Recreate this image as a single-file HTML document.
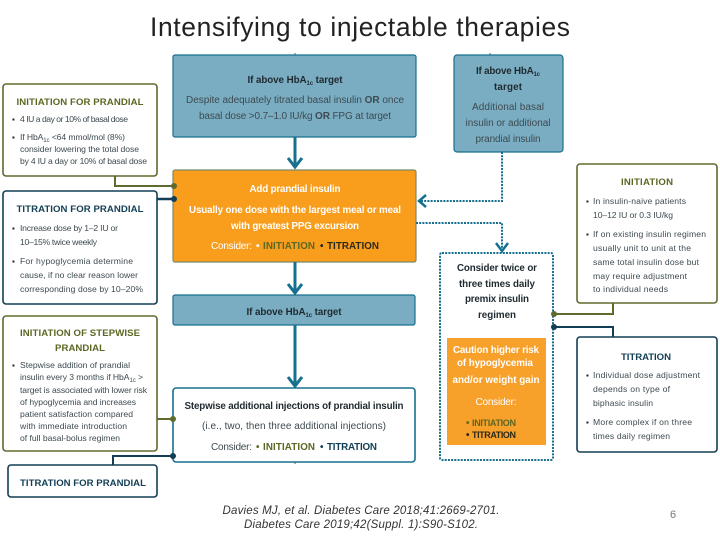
<!DOCTYPE html>
<html><head><meta charset="utf-8"><style>
html,body{margin:0;padding:0;background:#fff}
svg{display:block}
text{font-family:"Liberation Sans",sans-serif;font-size:8.6px;fill:#3d4a50}
.c{text-anchor:middle}
.m{font-size:10px}
.b{font-weight:bold;fill:#1f2a30;font-size:9.8px}
.h{font-weight:bold;font-size:9.6px}
.ol{fill:#5b6722}.nv{fill:#123f55}.w{fill:#fff}
.t{font-weight:bold;font-size:9.8px}
.s{font-size:6px}
.p{font-size:8px;fill:#222}
</style></head><body>
<svg width="720" height="540" viewBox="0 0 720 540" xmlns="http://www.w3.org/2000/svg">
<text x="360" y="36" class="c" style="font-size:26.4px;fill:#222" textLength="420">Intensifying to injectable therapies</text>

<!-- boxes -->
<g fill="#fff" stroke-width="1.6">
<rect x="3" y="84" width="154" height="92" rx="3" stroke="#5f6b2d"/>
<rect x="3" y="191" width="154" height="113" rx="3" stroke="#123f55"/>
<rect x="3" y="316" width="154" height="135" rx="3" stroke="#5f6b2d"/>
<rect x="8" y="465" width="149" height="32" rx="3" stroke="#123f55"/>
<rect x="577" y="164" width="140" height="139" rx="3" stroke="#5f6b2d"/>
<rect x="577" y="337" width="140" height="115" rx="3" stroke="#123f55"/>
<rect x="173" y="388" width="242" height="74" rx="3" stroke="#17708f"/>
</g>
<g stroke-width="1.2">
<rect x="173" y="55" width="243" height="82" rx="2" fill="#7aadc2" stroke="#17708f"/>
<rect x="173" y="170" width="243" height="92" rx="2" fill="#f99d1c" stroke="#7a8a6a"/>
<rect x="173" y="295" width="242" height="30" rx="2" fill="#7aadc2" stroke="#17708f"/>
<rect x="454" y="55" width="109" height="97" rx="3" fill="#7aadc2" stroke="#17708f"/>
</g>
<rect x="440" y="253" width="113" height="207" rx="2" fill="#fff" stroke="#17708f" stroke-width="2" stroke-dasharray="2 1.2"/>
<rect x="447" y="338" width="99" height="107" fill="#f7a02a"/>

<!-- connectors -->
<g fill="none" stroke-width="2">
<path d="M115 176V186H174" stroke="#5f6b2d"/>
<path d="M157 199H174" stroke="#123f55" stroke-width="2.5"/>
<path d="M157 419H173" stroke="#5f6b2d"/>
<path d="M113 465V456H173" stroke="#123f55"/>
<path d="M613 303V314H554" stroke="#5f6b2d"/>
<path d="M613 337V327H554" stroke="#123f55"/>
<path d="M295 137V167M288 158L295 167L302 158" stroke="#17708f" stroke-width="3"/>
<path d="M295 262V293M288 284L295 293L302 284" stroke="#17708f" stroke-width="3"/>
<path d="M295 325V386M288 377L295 386L302 377" stroke="#17708f" stroke-width="3"/>
<g stroke="#17708f" stroke-dasharray="2 1.2">
<path d="M502 152V201H420"/><path d="M416 223H502V250"/>
</g>
<path d="M426 195L419 201L426 207" stroke="#17708f" stroke-width="2.5"/>
<path d="M496 243L502 251L508 243" stroke="#17708f" stroke-width="2.5"/>
<path d="M295 53V55M490 53V55M295 462V464" stroke="#17708f" stroke-width="1"/>
</g>
<g><circle cx="174" cy="186" r="3" fill="#5f6b2d"/><circle cx="174" cy="199" r="3" fill="#123f55"/>
<circle cx="173" cy="419" r="3" fill="#5f6b2d"/><circle cx="173" cy="456" r="3" fill="#123f55"/>
<circle cx="554" cy="314" r="3" fill="#5f6b2d"/><circle cx="554" cy="327" r="3" fill="#123f55"/></g>

<!-- Initiation for prandial -->
<text x="80" y="105" class="c h ol" textLength="127">INITIATION FOR PRANDIAL</text>
<text x="12" y="122" class="p">▪</text><text x="20" y="122" textLength="108">4 IU a day or 10% of basal dose</text>
<text x="12" y="140" class="p">▪</text><text x="20" y="140" textLength="105">If HbA<tspan class="s" dy="2">1c</tspan><tspan dy="-2"> &lt;64 mmol/mol (8%)</tspan></text>
<text x="20" y="152" textLength="119">consider lowering the total dose</text>
<text x="20" y="164" textLength="127">by 4 IU a day or 10% of basal dose</text>

<!-- Titration for prandial -->
<text x="80" y="212" class="c h nv" textLength="127">TITRATION FOR PRANDIAL</text>
<text x="12" y="231" class="p">▪</text><text x="20" y="231" textLength="98">Increase dose by 1–2 IU or</text>
<text x="20" y="245" textLength="77">10–15% twice weekly</text>
<text x="12" y="264" class="p">▪</text><text x="20" y="264" textLength="113">For hypoglycemia determine</text>
<text x="20" y="278" textLength="118">cause, if no clear reason lower</text>
<text x="20" y="292" textLength="123">corresponding dose by 10–20%</text>

<!-- Stepwise -->
<text x="80" y="336" class="c h ol" textLength="120">INITIATION OF STEPWISE</text>
<text x="80" y="351" class="c h ol" textLength="50">PRANDIAL</text>
<text x="12" y="368" class="p">▪</text><text x="20" y="368" textLength="110">Stepwise addition of prandial</text>
<text x="20" y="380" textLength="123">insulin every 3 months if HbA<tspan class="s" dy="2">1c</tspan><tspan dy="-2"> &gt;</tspan></text>
<text x="20" y="393" textLength="127">target is associated with lower risk</text>
<text x="20" y="405" textLength="116">of hypoglycemia and increases</text>
<text x="20" y="417" textLength="113">patient satisfaction compared</text>
<text x="20" y="429" textLength="107">with immediate introduction</text>
<text x="20" y="441" textLength="100">of full basal-bolus regimen</text>
<text x="83" y="486" class="c h nv" textLength="126">TITRATION FOR PRANDIAL</text>

<!-- center -->
<text x="295" y="83" class="c b" textLength="95">If above HbA<tspan class="s" dy="2">1c</tspan><tspan dy="-2"> target</tspan></text>
<text x="295" y="103" class="c m" textLength="218">Despite adequately titrated basal insulin <tspan style="font-weight:bold">OR</tspan> once</text>
<text x="295" y="119" class="c m" textLength="192">basal dose &gt;0.7–1.0 IU/kg <tspan style="font-weight:bold">OR</tspan> FPG at target</text>
<text x="295" y="192" class="c w t" textLength="91">Add prandial insulin</text>
<text x="295" y="213" class="c w t" textLength="212">Usually one dose with the largest meal or meal</text>
<text x="295" y="229" class="c w t" textLength="128">with greatest PPG excursion</text>
<text x="211" y="249" class="w m" textLength="41">Consider:</text>
<text x="256" y="249" class="w t">•</text>
<text x="263" y="249" class="ol t" textLength="52">INITIATION</text>
<text x="320" y="249" class="t" style="fill:#222">•</text>
<text x="327" y="249" class="t" style="fill:#2a2a1a" textLength="52">TITRATION</text>

<text x="294" y="315" class="c b" textLength="95">If above HbA<tspan class="s" dy="2">1c</tspan><tspan dy="-2"> target</tspan></text>

<text x="294" y="409" class="c b" textLength="219">Stepwise additional injections of prandial insulin</text>
<text x="294" y="429" class="c m" textLength="184">(i.e., two, then three additional injections)</text>
<text x="211" y="450" class="m" textLength="41">Consider:</text>
<text x="256" y="450" class="ol t">•</text>
<text x="263" y="450" class="ol t" textLength="52">INITIATION</text>
<text x="320" y="450" class="nv t">•</text>
<text x="327" y="450" class="nv t" textLength="50">TITRATION</text>

<!-- right blue -->
<text x="508" y="74" class="c b" textLength="64">If above HbA<tspan class="s" dy="2">1c</tspan></text>
<text x="508" y="90" class="c b" textLength="28">target</text>
<text x="508" y="110" class="c m" textLength="72">Additional basal</text>
<text x="508" y="126" class="c m" textLength="85">insulin or additional</text>
<text x="508" y="142" class="c m" textLength="65">prandial insulin</text>

<!-- dotted box -->
<text x="497" y="271" class="c b" textLength="80">Consider twice or</text>
<text x="497" y="287" class="c b" textLength="76">three times daily</text>
<text x="497" y="302" class="c b" textLength="64">premix insulin</text>
<text x="497" y="318" class="c b" textLength="38">regimen</text>
<text x="496" y="353" class="c w t" textLength="86">Caution higher risk</text>
<text x="495" y="366" class="c w t" textLength="76">of hypoglycemia</text>
<text x="496" y="383" class="c w t" textLength="87">and/or weight gain</text>
<text x="496" y="405" class="c w m" textLength="41">Consider:</text>
<text x="466" y="426" class="ol t">•</text><text x="472" y="426" class="ol" style="font-weight:bold;font-size:9px" textLength="44">INITIATION</text>
<text x="466" y="438" class="t" style="fill:#222">•</text><text x="472" y="438" style="font-weight:bold;fill:#2a2a1a;font-size:9px" textLength="44">TITRATION</text>

<!-- right boxes -->
<text x="647" y="185" class="c h ol" textLength="52">INITIATION</text>
<text x="586" y="204" class="p">▪</text><text x="593" y="204" textLength="93">In insulin-naive patients</text>
<text x="593" y="218" textLength="80">10–12 IU or 0.3 IU/kg</text>
<text x="586" y="237" class="p">▪</text><text x="593" y="237" textLength="113">If on existing insulin regimen</text>
<text x="593" y="251" textLength="98">usually unit to unit at the</text>
<text x="593" y="265" textLength="106">same total insulin dose but</text>
<text x="593" y="279" textLength="94">may require adjustment</text>
<text x="593" y="292" textLength="75">to individual needs</text>

<text x="646" y="360" class="c h nv" textLength="50">TITRATION</text>
<text x="586" y="378" class="p">▪</text><text x="593" y="378" textLength="107">Individual dose adjustment</text>
<text x="593" y="392" textLength="77">depends on type of</text>
<text x="593" y="406" textLength="60">biphasic insulin</text>
<text x="586" y="425" class="p">▪</text><text x="593" y="425" textLength="99">More complex if on three</text>
<text x="593" y="439" textLength="77">times daily regimen</text>

<!-- footer -->
<text x="361" y="514" class="c" style="font-size:11.5px;font-style:italic;fill:#333" textLength="277">Davies MJ, et al. Diabetes Care 2018;41:2669-2701.</text>
<text x="361" y="528" class="c" style="font-size:11.5px;font-style:italic;fill:#333" textLength="234">Diabetes Care 2019;42(Suppl. 1):S90-S102.</text>
<text x="673" y="518" class="c" style="font-size:11px;fill:#777">6</text>
</svg>
</body></html>
